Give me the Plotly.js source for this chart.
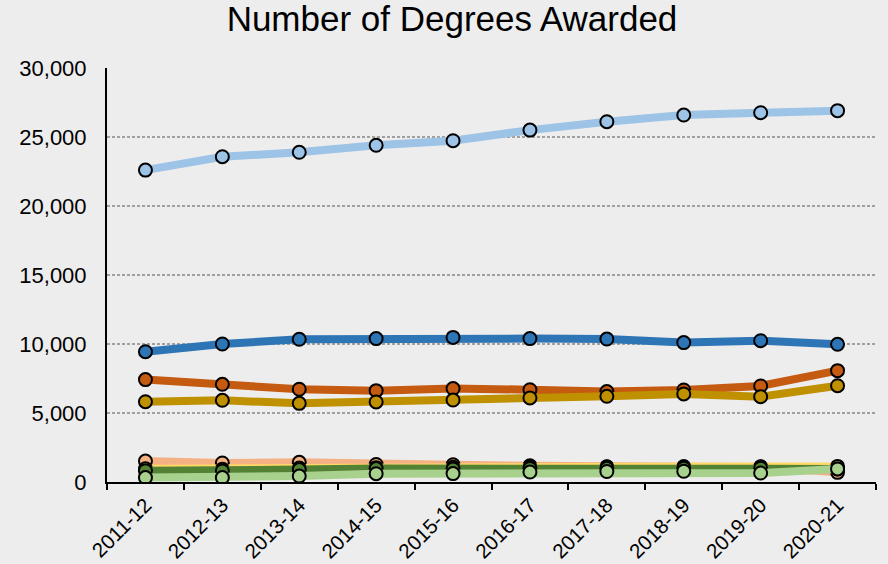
<!DOCTYPE html>
<html>
<head>
<meta charset="utf-8">
<script src="https://cdn.plot.ly/plotly-3.0.1.min.js"></script>
<style>
  html, body { margin: 0; padding: 0; background: #ededed; }
  #chart { width: 888px; height: 564px; }
</style>
</head>
<body>
<div id="chart"></div>
<script>
// Categories (academic years)
const years = ["2011-12","2012-13","2013-14","2014-15","2015-16","2016-17","2017-18","2018-19","2019-20","2020-21"];

// Series values
const seriesLightBlue  = [22600, 23570, 23890, 24400, 24730, 25500, 26110, 26590, 26760, 26910];
const seriesBlue       = [9440, 10000, 10340, 10390, 10480, 10390, 10360, 10100, 10240, 9980];
const seriesDarkOrange = [7420, 7080, 6720, 6620, 6770, 6690, 6550, 6670, 6960, 8070];
const seriesGold       = [5820, 5920, 5700, 5800, 5940, 6090, 6210, 6380, 6180, 6980];
const seriesPeach      = [1520, 1380, 1430, 1270, 1250, 1180, 1110, 1100, 1080, 700];
const seriesYellow     = [960, 930, 1010, 1040, 1060, 1080, 1090, 1110, 1110, 1130];
const seriesDarkGreen  = [820, 800, 900, 970, 950, 980, 990, 1000, 1000, 950];
const seriesLightGreen = [320, 320, 430, 600, 610, 720, 760, 780, 650, 950];

const seriesList = [
  {y: seriesLightBlue,  color: "#9DC3E6"},
  {y: seriesBlue,       color: "#2E75B6"},
  {y: seriesDarkOrange, color: "#C55A11"},
  {y: seriesGold,       color: "#BF9000"},
  {y: seriesPeach,      color: "#F4B183"},
  {y: seriesYellow,     color: "#FFD966"},
  {y: seriesDarkGreen,  color: "#548235"},
  {y: seriesLightGreen, color: "#A9D18E"}
];

const traces = seriesList.map(s => ({
  type: "scatter",
  mode: "lines+markers",
  x: years,
  y: s.y,
  line: {color: s.color, width: 8},
  marker: {color: s.color, size: 13, line: {color: "#000000", width: 2}},
  hoverinfo: "x+y"
}));

const layout = {
  width: 888,
  height: 564,
  paper_bgcolor: "#ededed",
  plot_bgcolor: "#ededed",
  showlegend: false,
  margin: {l: 107, r: 12, t: 68, b: 82},
  font: {family: "Liberation Sans, Arial, sans-serif", color: "#000000"},
  title: {
    text: "Number of Degrees Awarded",
    font: {size: 35, family: "Liberation Sans, Arial, sans-serif", color: "#000000"},
    x: 0.509, xref: "container", xanchor: "center",
    y: 0.966, yref: "container", yanchor: "middle"
  },
  xaxis: {
    type: "category",
    range: [-0.5, 9.5],
    showgrid: false,
    showline: true,
    linecolor: "#000000",
    linewidth: 2,
    ticks: "outside",
    tickson: "boundaries",
    ticklen: 6,
    tickwidth: 2,
    tickcolor: "#000000",
    tickangle: -45,
    ticklabelstandoff: 1,
    tickfont: {size: 20.5, color: "#000000"},
    zeroline: false,
    fixedrange: true
  },
  yaxis: {
    range: [0, 30000],
    tickvals: [0, 5000, 10000, 15000, 20000, 25000, 30000],
    tickformat: ",d",
    showgrid: true,
    gridcolor: "#a0a0a0",
    gridwidth: 2.5,
    griddash: "3px,2px",
    showline: true,
    linecolor: "#000000",
    linewidth: 2,
    ticks: "",
    ticklabelstandoff: 14,
    tickfont: {size: 22, color: "#000000"},
    zeroline: false,
    fixedrange: true
  }
};

Plotly.newPlot("chart", traces, layout, {displayModeBar: false, staticPlot: true});
</script>
</body>
</html>
